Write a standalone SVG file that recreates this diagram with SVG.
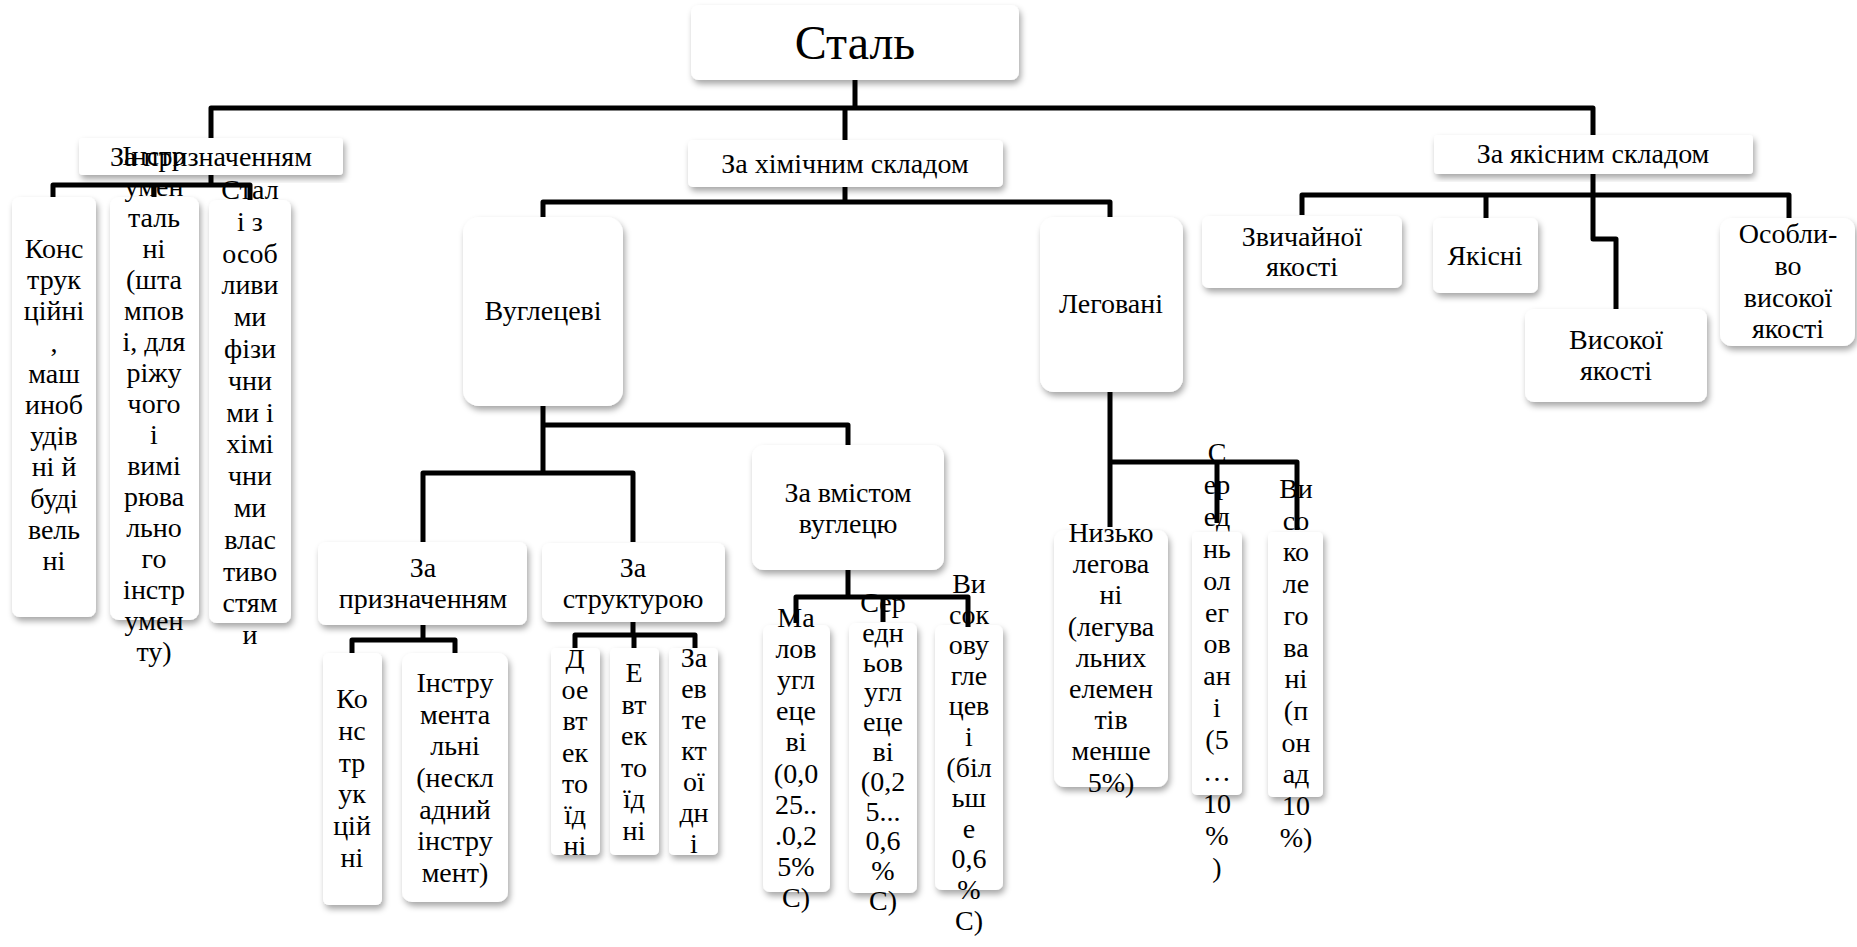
<svg xmlns="http://www.w3.org/2000/svg" width="1857" height="947" viewBox="0 0 1857 947" font-family="'Liberation Serif', 'DejaVu Serif', 'Times New Roman', serif">
<style>
.box{fill:#fff;filter:url(#sh)}
.t{font-family:'Liberation Serif','DejaVu Serif','Times New Roman',serif;font-size:28px;text-anchor:middle;fill:#000}
.big{font-size:48px}
.c{stroke:#000;stroke-width:5;fill:none;stroke-linejoin:round}
</style>
<defs>
<filter id="sh" x="-20%" y="-20%" width="140%" height="140%">
<feDropShadow dx="2" dy="4" stdDeviation="3" flood-color="#000" flood-opacity="0.35"/>
</filter>
</defs>
<rect width="1857" height="947" fill="#fff"/>

<g id="n-stal"><rect class="box" x="691" y="5" width="328" height="75" rx="8"/><text class="t big" x="855" y="59">Сталь</text></g>
<g id="n-zapryzn"><rect class="box" x="79" y="138" width="264" height="37" rx="4"/><text class="t" x="211" y="166">За призначенням</text></g>
<g id="n-zakhim"><rect class="box" x="688" y="140" width="315" height="47" rx="5"/><text class="t" x="845" y="173">За хімічним складом</text></g>
<g id="n-zayakis"><rect class="box" x="1434" y="135" width="319" height="39" rx="4"/><text class="t" x="1593" y="163">За якісним складом</text></g>

<g id="n-konstr1"><rect class="box" x="12" y="197" width="84" height="420" rx="8"/><text class="t"><tspan x="54" y="258">Конс</tspan><tspan x="54" y="289">трук</tspan><tspan x="54" y="320">ційні</tspan><tspan x="54" y="352">,</tspan><tspan x="54" y="383">маш</tspan><tspan x="54" y="414">иноб</tspan><tspan x="54" y="445">удів</tspan><tspan x="54" y="476">ні й</tspan><tspan x="54" y="508">буді</tspan><tspan x="54" y="539">вель</tspan><tspan x="54" y="570">ні</tspan></text></g>
<g id="n-instr1"><rect class="box" x="110" y="197" width="89" height="423" rx="9"/><text class="t"><tspan x="154" y="165">Інстр</tspan><tspan x="154" y="196">умен</tspan><tspan x="154" y="227">таль</tspan><tspan x="154" y="258">ні</tspan><tspan x="154" y="289">(шта</tspan><tspan x="154" y="320">мпов</tspan><tspan x="154" y="351">і, для</tspan><tspan x="154" y="382">ріжу</tspan><tspan x="154" y="413">чого</tspan><tspan x="154" y="444">і</tspan><tspan x="154" y="475">вимі</tspan><tspan x="154" y="506">рюва</tspan><tspan x="154" y="537">льно</tspan><tspan x="154" y="568">го</tspan><tspan x="154" y="599">інстр</tspan><tspan x="154" y="630">умен</tspan><tspan x="154" y="661">ту)</tspan></text></g>
<g id="n-stali"><rect class="box" x="209" y="200" width="82" height="423" rx="8"/><text class="t"><tspan x="250" y="199">Стал</tspan><tspan x="250" y="231">і з</tspan><tspan x="250" y="263">особ</tspan><tspan x="250" y="294">ливи</tspan><tspan x="250" y="326">ми</tspan><tspan x="250" y="358">фізи</tspan><tspan x="250" y="390">чни</tspan><tspan x="250" y="422">ми і</tspan><tspan x="250" y="453">хімі</tspan><tspan x="250" y="485">чни</tspan><tspan x="250" y="517">ми</tspan><tspan x="250" y="549">влас</tspan><tspan x="250" y="581">тиво</tspan><tspan x="250" y="612">стям</tspan><tspan x="250" y="644">и</tspan></text></g>

<g id="n-vugl"><rect class="box" x="463" y="217" width="160" height="189" rx="16"/><text class="t" x="543" y="320">Вуглецеві</text></g>
<g id="n-leg"><rect class="box" x="1040" y="217" width="143" height="175" rx="14"/><text class="t" x="1111" y="313">Леговані</text></g>
<g id="n-zvych"><rect class="box" x="1202" y="216" width="200" height="72" rx="7"/><text class="t"><tspan x="1302" y="246">Звичайної</tspan><tspan x="1302" y="276">якості</tspan></text></g>
<g id="n-yakisni"><rect class="box" x="1433" y="218" width="105" height="75" rx="7"/><text class="t" x="1485" y="265">Якісні</text></g>
<g id="n-vysok"><rect class="box" x="1525" y="309" width="182" height="93" rx="9"/><text class="t"><tspan x="1616" y="349">Високої</tspan><tspan x="1616" y="380">якості</tspan></text></g>
<g id="n-osob"><rect class="box" x="1720" y="218" width="135" height="128" rx="12"/><text class="t"><tspan x="1788" y="243">Особли-</tspan><tspan x="1788" y="275">во</tspan><tspan x="1788" y="307">високої</tspan><tspan x="1788" y="338">якості</tspan></text></g>

<g id="n-zapryzn2"><rect class="box" x="318" y="542" width="209" height="83" rx="8"/><text class="t"><tspan x="423" y="577">За</tspan><tspan x="423" y="608">призначенням</tspan></text></g>
<g id="n-zastrukt"><rect class="box" x="542" y="543" width="183" height="79" rx="8"/><text class="t"><tspan x="633" y="577">За</tspan><tspan x="633" y="608">структурою</tspan></text></g>
<g id="n-zavmist"><rect class="box" x="752" y="445" width="192" height="125" rx="12"/><text class="t"><tspan x="848" y="502">За вмістом</tspan><tspan x="848" y="533">вуглецю</tspan></text></g>

<g id="n-konstr2"><rect class="box" x="323" y="653" width="59" height="252" rx="6"/><text class="t"><tspan x="352" y="708">Ко</tspan><tspan x="352" y="740">нс</tspan><tspan x="352" y="772">тр</tspan><tspan x="352" y="803">ук</tspan><tspan x="352" y="835">цій</tspan><tspan x="352" y="867">ні</tspan></text></g>
<g id="n-instr2"><rect class="box" x="402" y="653" width="106" height="249" rx="10"/><text class="t"><tspan x="455" y="692">Інстру</tspan><tspan x="455" y="724">мента</tspan><tspan x="455" y="755">льні</tspan><tspan x="455" y="787">(нескл</tspan><tspan x="455" y="819">адний</tspan><tspan x="455" y="850">інстру</tspan><tspan x="455" y="882">мент)</tspan></text></g>
<g id="n-doevt"><rect class="box" x="551" y="648" width="49" height="207" rx="5"/><text class="t"><tspan x="575" y="668">Д</tspan><tspan x="575" y="699">ое</tspan><tspan x="575" y="730">вт</tspan><tspan x="575" y="762">ек</tspan><tspan x="575" y="793">то</tspan><tspan x="575" y="824">їд</tspan><tspan x="575" y="855">ні</tspan></text></g>
<g id="n-evt"><rect class="box" x="610" y="648" width="49" height="207" rx="5"/><text class="t"><tspan x="634" y="682">Е</tspan><tspan x="634" y="714">вт</tspan><tspan x="634" y="745">ек</tspan><tspan x="634" y="777">то</tspan><tspan x="634" y="808">їд</tspan><tspan x="634" y="840">ні</tspan></text></g>
<g id="n-zaevt"><rect class="box" x="669" y="648" width="49" height="207" rx="5"/><text class="t"><tspan x="694" y="667">За</tspan><tspan x="694" y="698">ев</tspan><tspan x="694" y="729">те</tspan><tspan x="694" y="760">кт</tspan><tspan x="694" y="791">ої</tspan><tspan x="694" y="822">дн</tspan><tspan x="694" y="853">і</tspan></text></g>

<g id="n-malov"><rect class="box" x="763" y="625" width="67" height="267" rx="7"/><text class="t"><tspan x="796" y="627">Ма</tspan><tspan x="796" y="658">лов</tspan><tspan x="796" y="689">угл</tspan><tspan x="796" y="720">еце</tspan><tspan x="796" y="751">ві</tspan><tspan x="796" y="783">(0,0</tspan><tspan x="796" y="814">25..</tspan><tspan x="796" y="845">.0,2</tspan><tspan x="796" y="876">5%</tspan><tspan x="796" y="907">С)</tspan></text></g>
<g id="n-serv"><rect class="box" x="849" y="623" width="68" height="270" rx="7"/><text class="t"><tspan x="883" y="612">Сер</tspan><tspan x="883" y="642">едн</tspan><tspan x="883" y="672">ьов</tspan><tspan x="883" y="701">угл</tspan><tspan x="883" y="731">еце</tspan><tspan x="883" y="761">ві</tspan><tspan x="883" y="791">(0,2</tspan><tspan x="883" y="821">5...</tspan><tspan x="883" y="850">0,6</tspan><tspan x="883" y="880">%</tspan><tspan x="883" y="910">С)</tspan></text></g>
<g id="n-vysv"><rect class="box" x="935" y="625" width="68" height="265" rx="7"/><text class="t"><tspan x="969" y="593">Ви</tspan><tspan x="969" y="624">сок</tspan><tspan x="969" y="654">ову</tspan><tspan x="969" y="685">гле</tspan><tspan x="969" y="715">цев</tspan><tspan x="969" y="746">і</tspan><tspan x="969" y="777">(біл</tspan><tspan x="969" y="807">ьш</tspan><tspan x="969" y="838">е</tspan><tspan x="969" y="868">0,6</tspan><tspan x="969" y="899">%</tspan><tspan x="969" y="930">С)</tspan></text></g>

<g id="n-nyzl"><rect class="box" x="1054" y="530" width="114" height="257" rx="11"/><text class="t"><tspan x="1111" y="542">Низько</tspan><tspan x="1111" y="573">легова</tspan><tspan x="1111" y="604">ні</tspan><tspan x="1111" y="636">(легува</tspan><tspan x="1111" y="667">льних</tspan><tspan x="1111" y="698">елемен</tspan><tspan x="1111" y="729">тів</tspan><tspan x="1111" y="760">менше</tspan><tspan x="1111" y="792">5%)</tspan></text></g>
<g id="n-serl"><rect class="box" x="1192" y="532" width="50" height="263" rx="5"/><text class="t"><tspan x="1217" y="462">С</tspan><tspan x="1217" y="494">ер</tspan><tspan x="1217" y="526">ед</tspan><tspan x="1217" y="558">нь</tspan><tspan x="1217" y="590">ол</tspan><tspan x="1217" y="622">ег</tspan><tspan x="1217" y="653">ов</tspan><tspan x="1217" y="685">ан</tspan><tspan x="1217" y="717">і</tspan><tspan x="1217" y="749">(5</tspan><tspan x="1217" y="781">…</tspan><tspan x="1217" y="813">10</tspan><tspan x="1217" y="845">%</tspan><tspan x="1217" y="877">)</tspan></text></g>
<g id="n-vysl"><rect class="box" x="1268" y="532" width="55" height="265" rx="5"/><text class="t"><tspan x="1296" y="498">Ви</tspan><tspan x="1296" y="530">со</tspan><tspan x="1296" y="561">ко</tspan><tspan x="1296" y="593">ле</tspan><tspan x="1296" y="625">го</tspan><tspan x="1296" y="657">ва</tspan><tspan x="1296" y="688">ні</tspan><tspan x="1296" y="720">(п</tspan><tspan x="1296" y="752">он</tspan><tspan x="1296" y="783">ад</tspan><tspan x="1296" y="815">10</tspan><tspan x="1296" y="847">%)</tspan></text></g>

<g id="connectors" class="c">
<path d="M855,80 V108 M211,138 V108 H1593 V135 M845,108 V140"/>
<path d="M211,175 V185 M53,197 V185 H250 V200 M154,185 V197"/>
<path d="M845,187 V202 M543,217 V202 H1110 V217"/>
<path d="M543,406 V473 M543,425 H848 V445 M423,542 V473 H633 V542"/>
<path d="M423,625 V640 M352,653 V640 H455 V653"/>
<path d="M633,622 V635 M575,648 V635 H695 V648 M634,635 V648"/>
<path d="M848,570 V597 M796,623 V597 H968 V627 M883,597 V622"/>
<path d="M1110,392 V527 M1110,462 H1297 V530 M1217,462 V523"/>
<path d="M1593,174 V239 H1616 V309 M1302,215 V195 H1789 V218 M1486,195 V218"/>
</g>
</svg>
